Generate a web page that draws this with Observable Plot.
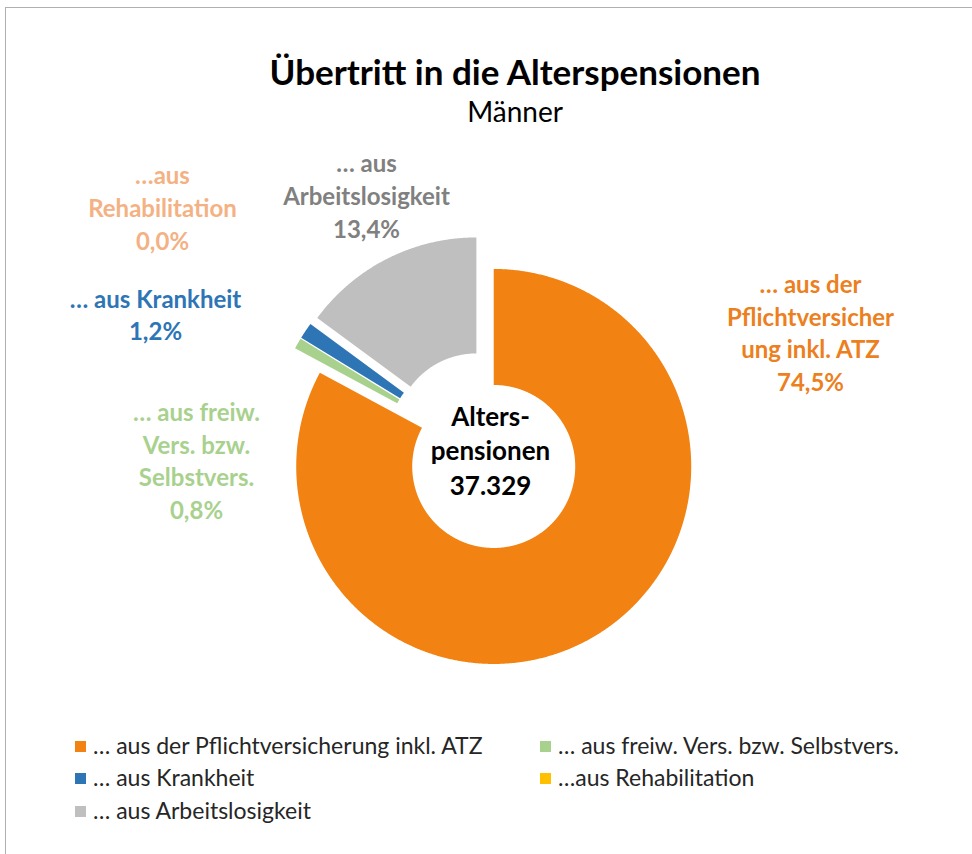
<!DOCTYPE html>
<html>
<head>
<meta charset="utf-8">
<script src="https://cdn.jsdelivr.net/npm/d3@7"></script>
<script src="https://cdn.jsdelivr.net/npm/@observablehq/plot@0.6"></script>
<style>
  html, body { margin: 0; padding: 0; background: #fff; }
  #page { position: relative; width: 972px; height: 854px; overflow: hidden; font-family: Lato, "Noto Sans", sans-serif; }
  #frame { position: absolute; left: 5px; top: 7px; width: 1100px; height: 1000px; border-left: 1.5px solid #b0b0b0; border-top: 1.5px solid #b0b0b0; box-sizing: border-box; }
  #chart { position: absolute; left: 0; top: 0; }
  .title { position: absolute; left: 165px; width: 700px; text-align: center; color: #000; line-height: 1.2; }
  #t1 { top: 50px; font-size: 35px; font-weight: 700; }
  #t2 { top: 95px; font-size: 28px; font-weight: 400; }
  .leg { position: absolute; font-size: 23px; color: #262626; white-space: nowrap; line-height: 26px; }
  .leg span.sw { display: inline-block; width: 11px; height: 11px; margin-right: 7px; vertical-align: 2px; }
</style>
</head>
<body>
<div id="page">
  <div id="frame"></div>
  <div id="chart"></div>
  <div class="title" id="t1">Übertritt in die Alterspensionen</div>
  <div class="title" id="t2">Männer</div>
</div>
<script>
// ---- data ----
const categories = [
  "… aus der Pflichtversicherung inkl. ATZ",
  "… aus freiw. Vers. bzw. Selbstvers.",
  "… aus Krankheit",
  "…aus Rehabilitation",
  "… aus Arbeitslosigkeit"
];
const shares = [74.5, 0.8, 1.2, 0.0, 13.4];
const sliceLabels = [
  "… aus der\nPflichtversicher\nung inkl. ATZ",
  "… aus freiw.\nVers. bzw.\nSelbstvers.",
  "… aus Krankheit",
  "…aus\nRehabilitation",
  "… aus\nArbeitslosigkeit"
];
const centerLabel = "Alters-\npensionen";
const totalCount = 37329;

// ---- styles / layout ----
const sliceColors = ["#F28212", "#A9D18E", "#2E75B6", "#FFC000", "#BFBFBF"];
const labelColors = ["#EC7F1E", "#A9D18E", "#2E75B6", "#F4B183", "#808080"];
const W = 972, H = 854;
const CX = 484, CY = 450.5, R = 197.5;       // pie centre and outer radius in px
const innerRatio = 81.5 / 197.5;
const explode = 18 / 197.5;
const labelPx = [[810, 331], [196, 459], [155, 313], [162, 206], [366, 194]];
const centerPx = [490, 449];
const legendPos = [[75, 732], [540, 732], [75, 764], [540, 764], [75, 797]];

// ---- geometry in radius units ----
const sum = d3.sum(shares);
const toX = px => (px - CX) / R;
const toY = py => (CY - py) / R;
const slices = [];
let acc = 0;
categories.forEach((c, i) => {
  const a0 = acc / sum * 2 * Math.PI;
  acc += shares[i];
  const a1 = acc / sum * 2 * Math.PI;
  slices.push({name: c, value: shares[i], a0, a1});
});
const pts = [];
for (const s of slices) {
  if (s.value <= 0) continue;
  const mid = (s.a0 + s.a1) / 2;
  const ox = explode * Math.sin(mid), oy = explode * Math.cos(mid);
  const n = Math.max(2, Math.ceil((s.a1 - s.a0) / 0.005));
  for (let k = 0; k <= n; k++) {
    const a = s.a0 + (s.a1 - s.a0) * k / n;
    pts.push({name: s.name, x: ox + Math.sin(a), y: oy + Math.cos(a)});
  }
  for (let k = n; k >= 0; k--) {
    const a = s.a0 + (s.a1 - s.a0) * k / n;
    pts.push({name: s.name, x: ox + innerRatio * Math.sin(a), y: oy + innerRatio * Math.cos(a)});
  }
}
const fmtPct = v => v.toFixed(1).replace(".", ",") + "%";
const labels = categories.map((c, i) => ({
  name: c,
  text: sliceLabels[i] + "\n" + fmtPct(shares[i]),
  x: toX(labelPx[i][0]),
  y: toY(labelPx[i][1]),
  color: labelColors[i]
}));
const centerData = [{
  text: centerLabel + "\n" + d3.format(",")(totalCount).replace(/,/g, "."),
  x: toX(centerPx[0]), y: toY(centerPx[1])
}];

const chart = Plot.plot({
  width: W, height: H,
  margin: 0,
  x: {domain: [toX(0), toX(W)], axis: null},
  y: {domain: [toY(H), toY(0)], axis: null},
  color: {domain: categories, range: sliceColors},
  style: {background: "transparent", fontFamily: "Lato, 'Noto Sans', sans-serif"},
  marks: [
    Plot.line(pts, {x: "x", y: "y", z: "name", fill: "name", stroke: null, curve: "linear-closed"}),
    Plot.text(labels, {x: "x", y: "y", text: "text", fill: d => d.color, fontSize: 24, fontWeight: 700, lineHeight: 1.37}),
    Plot.text(centerData, {x: "x", y: "y", text: "text", fill: "#000", fontSize: 26, fontWeight: 700, lineHeight: 1.32})
  ]
});
document.getElementById("chart").appendChild(chart);

// legend
const page = document.getElementById("page");
categories.forEach((c, i) => {
  const d = document.createElement("div");
  d.className = "leg";
  d.style.left = legendPos[i][0] + "px";
  d.style.top = legendPos[i][1] + "px";
  d.innerHTML = `<span class="sw" style="background:${sliceColors[i]}"></span>` + c;
  page.appendChild(d);
});
</script>
</body>
</html>
